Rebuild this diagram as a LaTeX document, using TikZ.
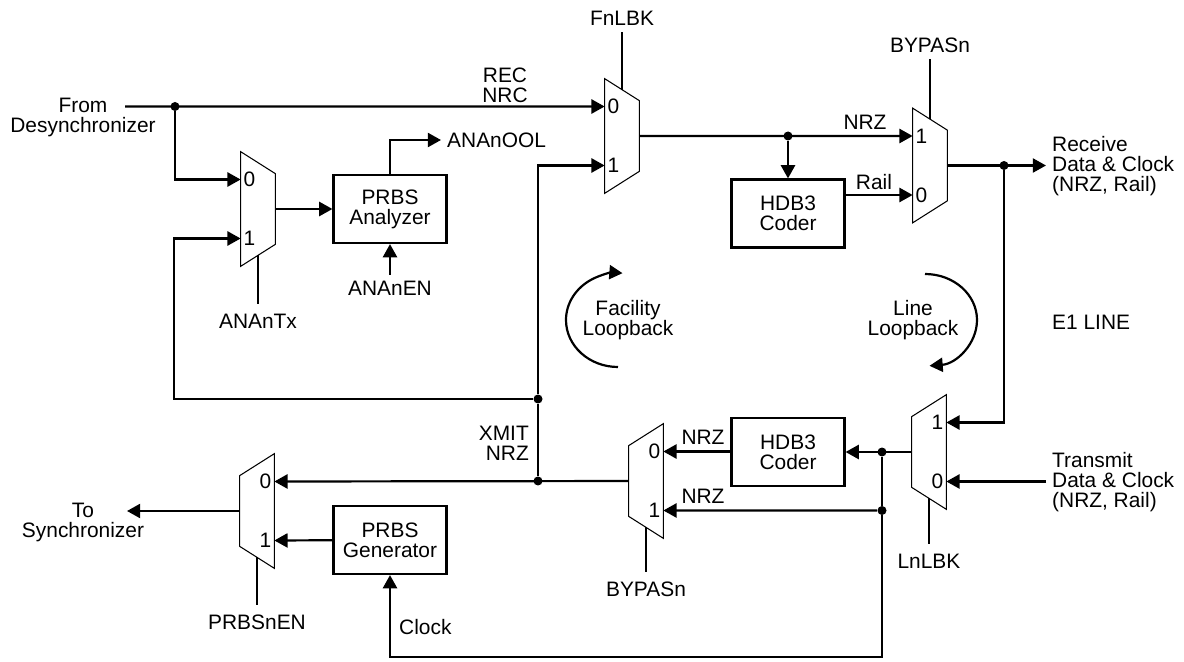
\documentclass[tikz,border=0pt]{standalone}
\usepackage{fontspec}
\setmainfont{Liberation Sans}
\usetikzlibrary{arrows.meta, positioning, calc}

\begin{document}
\begin{tikzpicture}[
            x=0.02cm, y=-0.02cm,
            font=\fontsize{11.9pt}{11.4pt}\selectfont,
            >={Triangle[length=7.5pt, width=8pt]},
            wire/.style={line width=1.25pt},
            block/.style={rectangle, draw, line width=1.25pt, minimum width=2.26cm, minimum height=1.36cm, align=center, inner sep=0pt},
            muxbox/.style={rectangle, minimum width=0.68cm, minimum height=2.28cm, inner sep=0pt},
            dot/.style={circle, fill, inner sep=0pt, minimum size=0.18cm},
            digit/.style={inner sep=1.5pt},
            lbl/.style={align=center},
            side/.style={align=left, anchor=west}
        ]
            \useasboundingbox (0,0) rectangle (1184,662);

            % MUXES (tall side left)
            \node[muxbox] (mA) at (258,209) {};
            \node[muxbox] (mF) at (622,136) {};
            \node[muxbox] (mB) at (930,165.5) {};
            % MUXES (tall side right)
            \node[muxbox] (mL) at (929,452) {};
            \node[muxbox] (mC) at (646,481) {};
            \node[muxbox] (mP) at (257,511) {};

            \foreach \m in {mA,mF,mB} {
                \draw[line width=0.6pt] (\m.north west) -- ([yshift=-0.44cm]\m.north east)
                    -- ([yshift=0.44cm]\m.south east) -- (\m.south west) -- cycle;
                \coordinate (\m-up) at ([yshift=0.59cm]\m.west);
                \coordinate (\m-dn) at ([yshift=-0.59cm]\m.west);
                \coordinate (\m-sel) at ([yshift=0.22cm]\m.south);
                \coordinate (\m-selt) at ([yshift=-0.22cm]\m.north);
            }
            \foreach \m in {mL,mC,mP} {
                \draw[line width=0.6pt] (\m.north east) -- ([yshift=-0.44cm]\m.north west)
                    -- ([yshift=0.44cm]\m.south west) -- (\m.south east) -- cycle;
                \coordinate (\m-up) at ([yshift=0.59cm]\m.east);
                \coordinate (\m-dn) at ([yshift=-0.59cm]\m.east);
                \coordinate (\m-sel) at ([yshift=0.22cm]\m.south);
            }

            % mux inputs
            \node[digit, anchor=west] (mA0) at (mA-up) {0};
            \node[digit, anchor=west] (mA1) at (mA-dn) {1};
            \node[digit, anchor=west] (mF0) at (mF-up) {0};
            \node[digit, anchor=west] (mF1) at (mF-dn) {1};
            \node[digit, anchor=west] (mB1) at (mB-up) {1};
            \node[digit, anchor=west] (mB0) at (mB-dn) {0};
            \node[digit, anchor=east] (mL1) at (mL-up) {1};
            \node[digit, anchor=east] (mL0) at (mL-dn) {0};
            \node[digit, anchor=east] (mC0) at (mC-up) {0};
            \node[digit, anchor=east] (mC1) at (mC-dn) {1};
            \node[digit, anchor=east] (mP0) at (mP-up) {0};
            \node[digit, anchor=east] (mP1) at (mP-dn) {1};

            % mux selects
            \draw[wire] (mA-sel) -- ++(0,49) coordinate (sA);
            \node[below=2pt of sA] (tA) {ANAnTx};
            \draw[wire] (mF-selt) -- ++(0,-58) coordinate (sF);
            \node[above=0pt of sF] (tF) {FnLBK};
            \draw[wire] (mB-selt) -- ++(0,-60) coordinate (sB);
            \node[above=0pt of sB] (tB) {BYPASn};
            \draw[wire] (mL-sel) -- ++(0,46) coordinate (sL);
            \node[below=2pt of sL] (tL) {LnLBK};
            \draw[wire] (mC-sel) -- ++(0,45) coordinate (sC);
            \node[below=2pt of sC] (tC) {BYPASn};
            \draw[wire] (mP-sel) -- ++(0,48) coordinate (sP);
            \node[below=2pt of sP] (tP) {PRBSnEN};

            % BLOCKS
            \node[block] (ana) at (390,209) {PRBS\\Analyzer};
            \node[block] (cA) at (788,213.5) {HDB3\\Coder};
            \node[block] (cB) at (788,452) {HDB3\\Coder};
            \node[block] (gen) at (390,540) {PRBS\\Generator};

            % TEXTS
            \node[lbl] (fromtxt) at (83,117) {From\\Desynchronizer};
            \node[lbl] (totxt) at (83,522) {To\\Synchronizer};
            \node[lbl] (rec) at (505,85) {REC\\NRC};
            \node[align=right, anchor=east] (xmit) at (535,443) {XMIT\\NRZ};
            \node[side] (rx) at (1046,166) {Receive\\Data \& Clock\\(NRZ, Rail)};
            \node[side] (tx) at (1046,482) {Transmit\\Data \& Clock\\(NRZ, Rail)};
            \node[side] (e1) at (1046,322) {E1 LINE};
            \node[side] (ool) at (441,140) {ANAnOOL};
            \node (en) at (390,288) {ANAnEN};
            \node (nrzA) at (865,122) {NRZ};
            \node (rail) at (874,182) {Rail};
            \node (nrzB) at (703,437) {NRZ};
            \node (nrzC) at (703,496) {NRZ};
            \node[side] (clk) at (393,627) {Clock};
            \node[lbl] (fac) at (628,320) {Facility\\Loopback};
            \node[lbl] (lin) at (913,320) {Line\\Loopback};

            % JUNCTIONS
            \node[dot] (jA) at (175,106.5) {};
            \node[dot] (jF) at (538,399) {};
            \node[dot] (jX) at (538,481) {};
            \node[dot] (jN) at (788,136) {};
            \node[dot] (jR) at (1004,165.5) {};
            \node[dot] (jL1) at (882,452) {};
            \node[dot] (jL2) at (882,510.5) {};
            \coordinate (fromend) at (125,106.5);
            \coordinate (toend) at (127,511);

            % receive side
            \draw[wire, ->] (fromend) -- (mF-up);
            \draw[wire, ->] (jA) |- (mA-up);
            \draw[wire, ->] (mA) -- (ana);
            \draw[wire, ->] (ana.north) |- (ool.west);
            \draw[wire, ->] (en) -- (ana.south);
            \draw[wire, ->] (jF) -- ++(-364,0) |- (mA-dn);
            \draw[wire, ->] (jX) -- (jF) |- (mF-dn);
            \draw[wire, ->] (mF) -- (mB-up);
            \draw[wire, ->] (jN) -- (cA);
            \draw[wire, ->] (cA.east |- mB-dn) -- (mB-dn);
            \draw[wire, ->] (mB) -- (mB -| rx.west);
            \draw[wire, ->] (jR) |- (mL-up);

            % transmit side
            \draw[wire, ->] (mL-dn -| tx.west) -- (mL-dn);
            \draw[wire, ->] (mL) -- (cB);
            \draw[wire, ->] (cB.west |- mC-up) -- (mC-up);
            \draw[wire, ->] (jL2) -- (mC-dn);
            \draw[wire] (jL1) -- (jL2);
            \draw[wire, ->] (jL2) -- ++(0,146.5) -| (gen);
            \draw[wire, ->] (mC) -- (mP-up);
            \draw[wire, ->] (gen) -- (mP-dn);
            \draw[wire, ->] (mP) -- (toend);

            % loopbacks
            \draw[wire, ->] (618,367) arc[start angle=90, end angle=275, x radius=52, y radius=47];
            \draw[wire, ->] (925,274) arc[start angle=270, end angle=445, x radius=52, y radius=46];
        \end{tikzpicture}
\end{document}
